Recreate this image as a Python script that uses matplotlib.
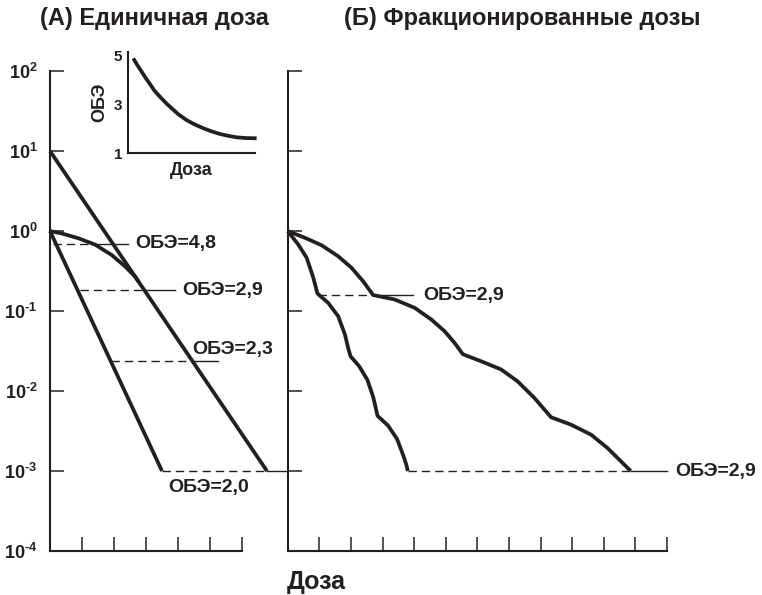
import numpy as np
import matplotlib
matplotlib.use("Agg")
import matplotlib.pyplot as plt
from matplotlib import font_manager

# --- fonts ---
installed = {f.name for f in font_manager.fontManager.ttflist}
NARROW = "Liberation Sans Narrow" in installed
plt.rcParams["font.family"] = ["Liberation Sans", "DejaVu Sans"]
plt.rcParams["mathtext.fontset"] = "custom"
plt.rcParams["mathtext.rm"] = "Liberation Sans:bold"
plt.rcParams["mathtext.it"] = "Liberation Sans:bold"
plt.rcParams["mathtext.bf"] = "Liberation Sans:bold"

INK = "#231f20"

# --- data (dose in tick units, survival as log10 exponent) ---
# (A) single dose
steep_x = [0.0, 3.5]
steep_log = [0.0, -3.0]
shallow_x = [0.0, 6.78]
shallow_log = [1.0, -3.0]
shoulder_x = [0.0, 0.365, 0.885, 1.41, 1.93, 2.34, 2.66, 2.78]
shoulder_log = [0.0, -0.03, -0.09, -0.17, -0.30, -0.44, -0.57, -0.64]

# RBE markers in (A): level, dashed from, dashed to, leader end, label pos
rbe_a_labels = ["ОБЭ=4,8", "ОБЭ=2,9", "ОБЭ=2,3", "ОБЭ=2,0"]
rbe_a_level = [-0.159, -0.742, -1.63, -3.0]
rbe_a_dash_from = [0.1, 0.94, 1.9, 3.5]
rbe_a_dash_to = [1.4, 2.95, 4.46, 6.78]
rbe_a_lead_to = [2.44, 3.9, 5.25, 7.4]
rbe_a_text_x = [2.66, 4.12, 4.46, 3.69]
rbe_a_text_log = [-0.159, -0.742, -1.484, -3.21]

# (B) fractionated doses
upper_x = [0.0, 0.546, 1.073, 1.596, 2.019, 2.385, 2.70,
           3.385, 4.016, 4.543, 4.962, 5.278, 5.539,
           6.12, 6.75, 7.27, 7.80, 8.33, 8.38,
           8.96, 9.59, 10.11, 10.54, 10.85]
upper_log = [0.0, -0.085, -0.178, -0.315, -0.46, -0.628, -0.80,
             -0.856, -0.96, -1.106, -1.252, -1.398, -1.54,
             -1.628, -1.73, -1.878, -2.085, -2.328, -2.335,
             -2.42, -2.544, -2.71, -2.878, -3.0]
lower_x = [0.0, 0.334, 0.60, 0.81, 0.934, 0.965,
           1.28, 1.596, 1.81, 1.91, 1.987,
           2.26, 2.52, 2.70, 2.79, 2.84,
           3.17, 3.46, 3.66, 3.75, 3.80]
lower_log = [0.0, -0.169, -0.335, -0.585, -0.773, -0.79,
             -0.898, -1.065, -1.294, -1.46, -1.565,
             -1.69, -1.86, -2.07, -2.22, -2.31,
             -2.43, -2.60, -2.81, -2.92, -3.0]

rbe_b_labels = ["ОБЭ=2,9", "ОБЭ=2,9"]
rbe_b_level = [-0.80, -3.0]
rbe_b_dash_from = [0.965, 3.80]
rbe_b_dash_to = [2.70, 10.85]
rbe_b_lead_to = [3.96, 12.0]
rbe_b_text_x = [4.28, 12.25]

# inset: RBE vs dose
inset_x = [0.44, 0.77, 1.10, 1.42, 1.75, 2.10, 2.54, 3.0, 3.46, 4.0,
           4.63, 5.2, 5.94, 6.6, 7.25, 7.9, 8.56, 9.3, 10.13]
inset_rbe = [4.865, 4.58, 4.32, 4.06, 3.82, 3.55, 3.30, 3.05, 2.83, 2.58,
             2.35, 2.19, 2.02, 1.89, 1.785, 1.71, 1.65, 1.62, 1.61]

y_ticks = [1e2, 1e1, 1e0, 1e-1, 1e-2, 1e-3, 1e-4]
y_tick_labels = [r"$10^{2}$", r"$10^{1}$", r"$10^{0}$", r"$10^{\text{-}1}$",
                 r"$10^{\text{-}2}$", r"$10^{\text{-}3}$",
                 r"$10^{\text{-}4}$"]

fig = plt.figure(figsize=(7.62, 5.95), dpi=100)

ax_a = fig.add_axes([0.0656, 0.0739, 0.252, 0.8067])
ax_b = fig.add_axes([0.3776, 0.0739, 0.4978, 0.8067])

for ax, nx in ((ax_a, 6), (ax_b, 12)):
    ax.set_yscale("log")
    ax.set_ylim(1e-4, 1e2)
    ax.set_xlim(0, nx)
    ax.patch.set_alpha(0)
    for s in ("top", "right"):
        ax.spines[s].set_visible(False)
    for s in ("left", "bottom"):
        ax.spines[s].set_linewidth(1.5)
        ax.spines[s].set_color(INK)
    ax.set_xticks(range(1, nx + 1))
    ax.set_xticklabels([])
    ax.set_yticks(y_ticks)
    ax.yaxis.set_minor_locator(matplotlib.ticker.NullLocator())
    ax.tick_params(axis="both", direction="in", length=10, width=1.1,
                   color=INK)

ax_a.set_yticklabels(y_tick_labels, fontsize=13, color=INK)
ax_a.tick_params(axis="y", pad=9)
ax_b.set_yticklabels([])

curve_kw = dict(color=INK, lw=2.7, clip_on=False, solid_capstyle="butt",
                solid_joinstyle="round", zorder=4)
dash_kw = dict(color=INK, lw=1.0, dashes=(6, 3.6), clip_on=False, zorder=3)
lead_kw = dict(color=INK, lw=1.0, clip_on=False, zorder=3)
text_kw = dict(fontsize=14, fontweight="bold", color=INK, va="center",
               ha="left")

# (A)
ax_a.plot(steep_x, 10.0 ** np.array(steep_log), **curve_kw)
ax_a.plot(shallow_x, 10.0 ** np.array(shallow_log), **curve_kw)
ax_a.plot(shoulder_x, 10.0 ** np.array(shoulder_log), **curve_kw)
for lab, lv, d0, d1, l1, tx, ty in zip(rbe_a_labels, rbe_a_level,
                                       rbe_a_dash_from, rbe_a_dash_to,
                                       rbe_a_lead_to, rbe_a_text_x,
                                       rbe_a_text_log):
    y = 10.0 ** lv
    ax_a.plot([d0, d1], [y, y], **dash_kw)
    ax_a.plot([d1, l1], [y, y], **lead_kw)
    ax_a.text(tx, 10.0 ** ty, lab, **text_kw)

# (B)
ax_b.plot(upper_x, 10.0 ** np.array(upper_log), **curve_kw)
ax_b.plot(lower_x, 10.0 ** np.array(lower_log), **curve_kw)
for lab, lv, d0, d1, l1, tx in zip(rbe_b_labels, rbe_b_level,
                                   rbe_b_dash_from, rbe_b_dash_to,
                                   rbe_b_lead_to, rbe_b_text_x):
    y = 10.0 ** lv
    ax_b.plot([d0, d1], [y, y], **dash_kw)
    ax_b.plot([d1, l1], [y, y], **lead_kw)
    ax_b.text(tx, y, lab, **text_kw)

# inset
ax_in = fig.add_axes([0.1676, 0.7424, 0.167, 0.1708])
ax_in.patch.set_alpha(0)
ax_in.set_xlim(0, 10)
ax_in.set_ylim(1, 5.14)
for s in ("top", "right"):
    ax_in.spines[s].set_visible(False)
for s in ("left", "bottom"):
    ax_in.spines[s].set_linewidth(1.5)
    ax_in.spines[s].set_color(INK)
ax_in.set_xticks([])
ax_in.set_yticks([1, 3, 5])
ax_in.set_yticklabels(["1", "3", "5"], fontsize=11, fontweight="bold",
                      color=INK)
ax_in.tick_params(axis="y", length=0, pad=4)
ax_in.plot(inset_x, inset_rbe, color=INK, lw=2.7, clip_on=False,
           solid_capstyle="butt", solid_joinstyle="round")
ax_in.set_xlabel("Доза", fontsize=13, fontweight="bold", color=INK,
                 labelpad=6)
ax_in.set_ylabel("ОБЭ", fontsize=13, fontweight="bold", color=INK,
                 labelpad=4)

# titles and common x label
if NARROW:
    title_kw = dict(family=["Liberation Sans Narrow", "Liberation Sans"],
                    fontsize=20)
else:
    title_kw = dict(fontsize=17)
fig.text(40 / 762, 1 - 19 / 595, "(А) Единичная доза", fontweight="bold",
         color=INK, va="center", ha="left", **title_kw)
fig.text(344 / 762, 1 - 19 / 595, "(Б) Фракционированные дозы",
         fontweight="bold", color=INK, va="center", ha="left", **title_kw)
fig.text(287 / 762, 1 - 589 / 595, "Доза", fontsize=18, fontweight="bold",
         color=INK, va="baseline", ha="left")

fig.savefig("out.png", dpi=100)
